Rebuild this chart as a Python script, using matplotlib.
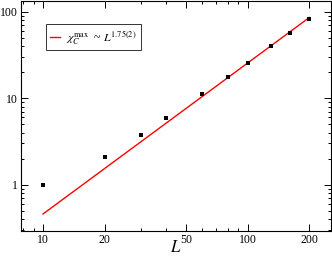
import numpy as np
import matplotlib
matplotlib.use('Agg')
import matplotlib.pyplot as plt
from matplotlib.ticker import LogLocator, NullFormatter, FixedLocator, FixedFormatter

plt.rcParams['font.family'] = ['Liberation Serif', 'DejaVu Serif']
plt.rcParams['mathtext.fontset'] = 'stix'

# данные: размер системы и максимум восприимчивости
L_vals = np.array([10, 20, 30, 40, 60, 80, 100, 130, 160, 200])
chi_max = np.array([0.98, 2.09, 3.77, 5.93, 11.2, 17.7, 25.7, 40.5, 57.3, 83.0])

# степенная подгонка chi ~ A * L^b
fit_amp = 0.00813
fit_exp = 1.75
L_fit = np.array([10, 200])

x_ticks = [10, 20, 50, 100, 200]
x_ticklabels = ['10', '20', '50', '100', '200']

fig = plt.figure(figsize=(3.32, 2.57), dpi=100)
ax = fig.add_axes([0.063, 0.101, 0.934, 0.895])

ax.plot(L_fit, fit_amp * L_fit**fit_exp, color='red', lw=1.0,
        label=r'$\chi_C^{\rm max}$  ~ $L^{1.75(2)}$')
ax.plot(L_vals, chi_max, 's', color='black', ms=2.6, mew=0, zorder=5)

ax.set_xscale('log')
ax.set_yscale('log')
ax.set_xlim(7.8, 255)
ax.set_ylim(0.29, 134)

ax.xaxis.set_major_locator(FixedLocator(x_ticks))
ax.xaxis.set_major_formatter(FixedFormatter(x_ticklabels))
ax.xaxis.set_minor_locator(LogLocator(base=10, subs=np.arange(1, 10)))
ax.xaxis.set_minor_formatter(NullFormatter())
ax.yaxis.set_major_locator(FixedLocator([1, 10, 100]))
ax.yaxis.set_major_formatter(FixedFormatter(['1', '10', '100']))
ax.yaxis.set_minor_locator(LogLocator(base=10, subs=np.arange(2, 10)))
ax.yaxis.set_minor_formatter(NullFormatter())

ax.tick_params(which='both', direction='in', top=True, right=True,
               labelsize=8.5, width=0.7, pad=2)
ax.tick_params(which='major', length=5)
ax.tick_params(which='minor', length=2.5)
for s in ax.spines.values():
    s.set_linewidth(0.8)

ax.set_xlabel(r'$L$', fontsize=12, labelpad=-4)

leg = ax.legend(loc='upper left', bbox_to_anchor=(0.08, 0.9), fontsize=8.5,
                frameon=True, fancybox=False, edgecolor='black',
                handlelength=0.9, handletextpad=0.5, borderpad=0.35,
                borderaxespad=0)
leg.get_frame().set_linewidth(0.7)

fig.savefig('out.png', dpi=100)
